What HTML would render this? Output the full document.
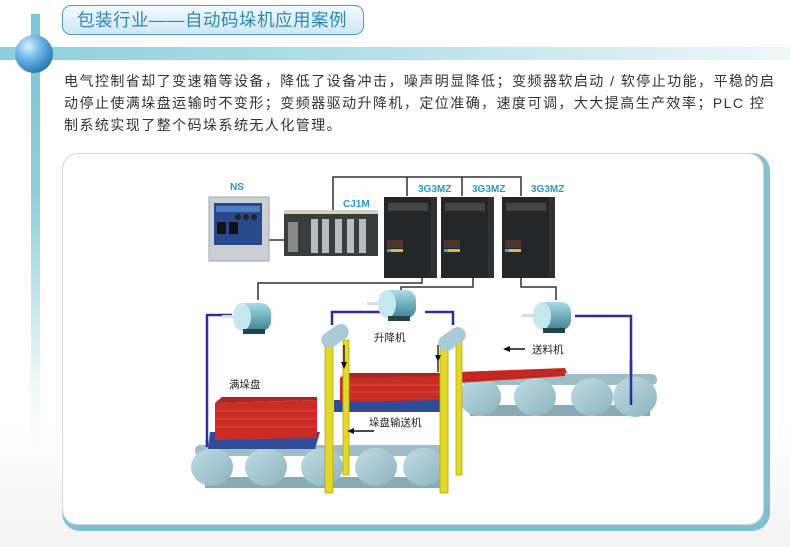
<!DOCTYPE html>
<html><head><meta charset="utf-8"><style>
html,body{margin:0;padding:0}
body{width:790px;height:547px;overflow:hidden;position:relative;background:linear-gradient(#fff 0,#fff 420px,#f3f3f4 547px);font-family:"Liberation Sans","Noto Sans CJK SC",sans-serif}
.vbar{position:absolute;left:31px;top:14px;width:9px;height:440px;background:linear-gradient(#7cc6d3,#8fcdd8 40%,rgba(200,235,240,0.3) 85%,rgba(255,255,255,0))}
.hbar{position:absolute;left:0;top:47px;width:790px;height:13px;background:linear-gradient(90deg,#8ccfdb,#b7e1e8 50%,#eef7f9 100%)}
.ball{position:absolute;left:15px;top:35px;width:38px;height:38px;border-radius:50%;background:radial-gradient(circle at 35% 30%,#d8f0fb 0,#6eb7e5 35%,#2a78b8 75%,#1c5a93 100%)}
.pill{position:absolute;left:62px;top:5px;width:302px;height:30px;border:1.5px solid #4d9ccf;border-radius:9px;background:linear-gradient(#f2fafe,#cfe7f4);box-sizing:border-box;color:#2b88bd;font-size:17.5px;line-height:28px;padding-left:14px;letter-spacing:0.5px}
.txt{position:absolute;left:64px;top:70px;white-space:nowrap;font-size:14px;line-height:22px;color:#333;letter-spacing:1.45px}
.panel{position:absolute;left:62px;top:153px;width:708px;height:378px;border-radius:18px;background:#7fc0d3;}
.panel2{position:absolute;left:62px;top:153px;width:702px;height:372px;border-radius:16px;background:#fff;border:1px solid #d6d6d6;box-sizing:border-box}
</style></head><body>
<div class="vbar"></div><div class="hbar"></div><div class="ball"></div>
<div class="pill">包装行业——自动码垛机应用案例</div>
<div class="txt">电气控制省却了变速箱等设备，降低了设备冲击，噪声明显降低；变频器软启动 / 软停止功能，平稳的启<br>动停止使满垛盘运输时不变形；变频器驱动升降机，定位准确，速度可调，大大提高生产效率；PLC 控<br>制系统实现了整个码垛系统无人化管理。</div>
<div class="panel"></div><div class="panel2"></div>
<svg width="790" height="547" style="position:absolute;left:0;top:0" font-family="Liberation Sans, Noto Sans CJK SC, sans-serif">
<defs>
<linearGradient id="rol" x1="0" y1="0" x2="1" y2="1"><stop offset="0" stop-color="#c0dce4"/><stop offset="1" stop-color="#8db3bf"/></linearGradient>
<linearGradient id="mot" x1="0" y1="0" x2="0" y2="1"><stop offset="0" stop-color="#a8dbe6"/><stop offset="1" stop-color="#3d8393"/></linearGradient>
</defs>
<g stroke="#333" stroke-width="1.5" fill="none">
<path d="M333 212V177H521V196M407 177V196M462 177V196"/>
<path d="M268 240H285"/>
<path d="M422 277V283H258V300M473 277V287H401V293M521 277V287H556V300"/>
</g>
<text x="230" y="190" font-size="10" font-weight="bold" fill="#2a9ad0">NS</text>
<rect x="209" y="197" width="60" height="64" fill="#c9cfd3" stroke="#9aa" />
<rect x="214" y="203" width="48" height="42" fill="#284a8c"/>
<rect x="216" y="206" width="44" height="6" fill="#4b7fc4"/>
<circle cx="238" cy="217" r="3" fill="#222"/><circle cx="246" cy="217" r="3" fill="#222"/><circle cx="254" cy="217" r="3" fill="#222"/>
<rect x="217" y="222" width="9" height="12" fill="#111"/><rect x="229" y="222" width="9" height="12" fill="#111"/>
<text x="343" y="207" font-size="10" font-weight="bold" fill="#2a9ad0">CJ1M</text>
<rect x="284" y="210" width="94" height="46" fill="#3a3d3e"/>
<rect x="284" y="210" width="94" height="4" fill="#d9d0b8"/>
<g fill="#b8bcbe"><rect x="311" y="219" width="7" height="34"/><rect x="322" y="219" width="7" height="34"/><rect x="335" y="219" width="7" height="34"/><rect x="347" y="219" width="7" height="34"/><rect x="359" y="219" width="7" height="34"/></g>
<rect x="288" y="222" width="10" height="30" fill="#888"/>
<g font-size="10" font-weight="bold" fill="#2a9ad0"><text x="418" y="192">3G3MZ</text><text x="472" y="192">3G3MZ</text><text x="531" y="192">3G3MZ</text></g>
<g id="dr">
<rect x="384" y="197" width="53" height="81" fill="#2f3132"/>
<rect x="384" y="197" width="47" height="81" fill="#242627"/>
<rect x="388" y="203" width="40" height="8" fill="#444"/>
<rect x="387" y="240" width="16" height="8" fill="#4d3530"/>
<rect x="387" y="249" width="16" height="3" fill="#c8c040"/>
<rect x="387" y="249" width="4" height="3" fill="#3fa0d8"/>
</g>
<use href="#dr" x="57"/><use href="#dr" x="118"/>
<g stroke="#2b2f9c" stroke-width="2.5" fill="none">
<path d="M232 315H207V445"/>
<path d="M380 312H332V325M425 312H453V325"/>
<path d="M575 316H631V405"/>
</g>
<g id="m"><rect x="235" y="303" width="36" height="28" rx="10" fill="url(#mot)"/><ellipse cx="242" cy="317" rx="9" ry="14" fill="#c5e8ef"/><rect x="222" y="315" width="12" height="3" fill="#ddd"/><rect x="243" y="329" width="22" height="5" fill="#244"/></g>
<use href="#m" x="145" y="-13"/><use href="#m" x="300" y="-1"/>
<rect x="462" y="374" width="195" height="11" rx="5" fill="#9dbdc7"/>
<rect x="470" y="405" width="180" height="11" fill="#88aab5"/>
<g fill="url(#rol)"><ellipse cx="480" cy="397" rx="21" ry="19"/><ellipse cx="535" cy="397" rx="21" ry="19"/><ellipse cx="592" cy="397" rx="21" ry="19"/><ellipse cx="635" cy="397" rx="22" ry="20"/></g>
<path d="M631 360V405" stroke="#2b2f9c" stroke-width="2.5"/>
<polygon points="457,372 565,368 567,373 460,382" fill="#c3271f"/>
<polygon points="457,374 565,370 565,376 457,383" fill="#c3271f"/>
<rect x="195" y="445" width="250" height="11" rx="5" fill="#9dbdc7"/>
<rect x="205" y="477" width="235" height="11" fill="#88aab5"/>
<g fill="url(#rol)"><ellipse cx="212" cy="467" rx="21" ry="19"/><ellipse cx="266" cy="467" rx="21" ry="19"/><ellipse cx="322" cy="467" rx="21" ry="19"/><ellipse cx="376" cy="467" rx="21" ry="19"/><ellipse cx="424" cy="467" rx="21" ry="19"/></g>
<path d="M207 440V447" stroke="#2b2f9c" stroke-width="2.5"/>
<polygon points="210,432 320,432 315,449 208,449" fill="#2f4c99"/>
<polygon points="215,403 317,400 317,438 215,440" fill="#c92c24"/>
<polygon points="215,403 222,397 317,397 317,400" fill="#a8261f"/>
<g stroke="#e04a3e" stroke-width="1"><path d="M215 411H317M215 419H317M215 427H317"/></g>
<polygon points="334,400 445,400 445,412 334,412" fill="#2f4c99"/>
<polygon points="340,378 442,375 442,400 340,402" fill="#c92c24"/>
<polygon points="340,378 346,373 442,373 442,376" fill="#a8261f"/>
<g stroke="#e04a3e" stroke-width="1"><path d="M340 385H442M340 392H442"/></g>
<g fill="#e2d82a" stroke="#b5aa10" stroke-width="0.8"><rect x="325" y="340" width="8" height="153"/><rect x="343" y="340" width="6" height="135"/><rect x="440" y="340" width="8" height="153"/><rect x="456" y="340" width="6" height="135"/></g>
<g fill="#a8cbd6"><rect x="320" y="328" width="30" height="16" rx="8" transform="rotate(-35 335 336)"/><rect x="437" y="331" width="30" height="16" rx="8" transform="rotate(-35 452 339)"/></g>
<g stroke="#111" stroke-width="1.3"><path d="M344 345V363M438 345V372"/></g>
<polygon points="341,362 347,362 344,369" fill="#111"/><polygon points="435,355 441,355 438,362" fill="#111"/>
<g stroke="#111" stroke-width="1.5"><path d="M509 349H525M353 431H374"/></g>
<polygon points="503,349 510,346 510,352" fill="#111"/><polygon points="347,431 354,428 354,434" fill="#111"/>
<g font-size="10.5" fill="#222">
<text x="374" y="341">升降机</text>
<text x="532" y="353">送料机</text>
<text x="229" y="388">满垛盘</text>
<text x="369" y="426">垛盘输送机</text>
</g>
</svg>
</body></html>
